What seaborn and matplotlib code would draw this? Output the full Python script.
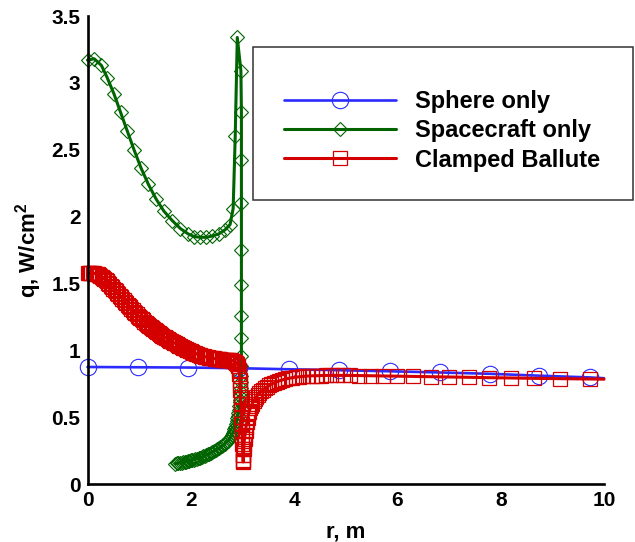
import matplotlib
matplotlib.use("Agg")
import matplotlib.pyplot as plt
import seaborn as sns
from matplotlib.patches import Rectangle
from matplotlib.ticker import MultipleLocator, FixedLocator, FixedFormatter

# ---------------- data ----------------
sphere_r = [0.0, 0.975, 1.95, 2.925, 3.9, 4.875, 5.85, 6.825, 7.8, 8.75, 9.72, 10.0]
sphere_q = [0.875, 0.873, 0.871, 0.866, 0.858, 0.851, 0.843, 0.834, 0.824, 0.810, 0.797, 0.791]

craft_r = [0.00, 0.13, 0.27, 0.38, 0.51, 0.64, 0.77, 0.90, 1.04, 1.18, 1.33, 1.48, 1.64,
           1.80, 1.95, 2.07, 2.18, 2.30, 2.42, 2.54, 2.66, 2.76, 2.82, 2.86, 2.90,
           2.97, 2.98, 2.98, 2.98, 2.98, 2.98, 2.98, 2.98, 2.98, 2.98,
           2.98, 2.975, 2.97, 2.965, 2.96, 2.955, 2.95, 2.94, 2.93, 2.92, 2.91, 2.90,
           2.89, 2.875, 2.86, 2.845, 2.83, 2.81, 2.79, 2.77, 2.745, 2.72, 2.69, 2.66,
           2.63, 2.60, 2.57, 2.54, 2.51, 2.48, 2.45, 2.42, 2.39, 2.36, 2.33, 2.30, 2.27,
           2.24, 2.21, 2.18, 2.15, 2.12, 2.09, 2.06, 2.03, 2.00, 1.97, 1.94, 1.91, 1.88,
           1.85, 1.82, 1.79, 1.76, 1.73, 1.70]
craft_q = [3.17, 3.18, 3.13, 3.04, 2.92, 2.78, 2.64, 2.50, 2.36, 2.24, 2.13, 2.04, 1.97,
           1.91, 1.87, 1.85, 1.845, 1.845, 1.855, 1.87, 1.90, 1.94, 2.06, 2.60, 3.34,
           3.09, 2.78, 2.42, 2.10, 1.75, 1.49, 1.26, 1.09, 0.96, 0.88,
           0.81, 0.76, 0.72, 0.69, 0.66, 0.63, 0.61, 0.58, 0.555, 0.53, 0.51, 0.49,
           0.47, 0.45, 0.43, 0.41, 0.395, 0.38, 0.365, 0.35, 0.337, 0.325, 0.313, 0.302,
           0.292, 0.283, 0.275, 0.267, 0.260, 0.253, 0.246, 0.240, 0.234, 0.228, 0.222,
           0.217, 0.212, 0.207, 0.202, 0.198, 0.194, 0.190, 0.186, 0.182, 0.179, 0.176,
           0.173, 0.170, 0.167, 0.165, 0.162, 0.160, 0.158, 0.156, 0.154, 0.152]

ballute_r = [0.000, 0.025, 0.050, 0.075, 0.100, 0.125, 0.150, 0.175, 0.200, 0.225, 0.250,
             0.275, 0.300, 0.325, 0.350, 0.375, 0.400, 0.425, 0.450, 0.475, 0.500, 0.525,
             0.550, 0.575, 0.600, 0.625, 0.650, 0.675, 0.700, 0.725, 0.750, 0.775, 0.800,
             0.825, 0.850, 0.875, 0.900, 0.925, 0.950, 0.975, 1.000, 1.025, 1.050, 1.075,
             1.100, 1.125, 1.150, 1.175, 1.200, 1.225, 1.250, 1.275, 1.300, 1.325, 1.350,
             1.375, 1.400, 1.425, 1.450, 1.475, 1.500, 1.525, 1.550, 1.575, 1.600, 1.625,
             1.650, 1.675, 1.700, 1.725, 1.750, 1.775, 1.800, 1.825, 1.850, 1.875, 1.900,
             1.925, 1.950, 1.975, 2.000, 2.025, 2.050, 2.075, 2.100, 2.125, 2.150, 2.175,
             2.200, 2.225, 2.250, 2.275, 2.300, 2.325, 2.350, 2.375, 2.400, 2.425, 2.450,
             2.475, 2.500, 2.525, 2.550, 2.575, 2.600, 2.625, 2.650, 2.675, 2.700, 2.725,
             2.750, 2.775, 2.800, 2.825, 2.850, 2.875, 2.900,
             2.915, 2.930, 2.940, 2.950, 2.955, 2.960, 2.965, 2.970, 2.975, 2.980, 2.985,
             2.990, 2.995, 3.000, 3.003, 3.006, 3.010, 3.013, 3.016,
             3.020, 3.025, 3.030, 3.040, 3.050, 3.060, 3.070, 3.085, 3.100, 3.115, 3.130,
             3.150, 3.170, 3.190, 3.215, 3.240, 3.270, 3.300, 3.330, 3.365, 3.400, 3.440,
             3.480, 3.520, 3.560, 3.610, 3.660, 3.710, 3.770, 3.830, 3.890, 3.960, 4.030,
             4.100, 4.180, 4.260, 4.340, 4.430, 4.520, 4.620, 4.720, 4.830, 4.950, 5.080,
             5.250, 5.480, 5.720, 6.000, 6.300, 6.650, 7.000, 7.380, 7.780, 8.200, 8.650,
             9.150, 9.720, 10.00]
ballute_q = [1.575, 1.576, 1.576, 1.576, 1.576, 1.575, 1.574, 1.571, 1.568, 1.563, 1.558,
             1.551, 1.543, 1.534, 1.525, 1.515, 1.505, 1.495, 1.484, 1.473, 1.462, 1.451,
             1.440, 1.429, 1.418, 1.407, 1.396, 1.385, 1.374, 1.363, 1.352, 1.341, 1.331,
             1.320, 1.310, 1.300, 1.290, 1.280, 1.270, 1.260, 1.250, 1.241, 1.232, 1.223,
             1.215, 1.206, 1.198, 1.190, 1.182, 1.174, 1.166, 1.158, 1.151, 1.144, 1.137,
             1.130, 1.123, 1.116, 1.110, 1.103, 1.097, 1.091, 1.085, 1.079, 1.073, 1.067,
             1.062, 1.057, 1.052, 1.046, 1.041, 1.035, 1.030, 1.025, 1.020, 1.015, 1.010,
             1.005, 1.000, 0.995, 0.991, 0.987, 0.983, 0.979, 0.975, 0.971, 0.968, 0.964,
             0.961, 0.958, 0.955, 0.952, 0.950, 0.948, 0.946, 0.944, 0.942, 0.940, 0.939,
             0.937, 0.936, 0.934, 0.933, 0.932, 0.931, 0.930, 0.929, 0.928, 0.927, 0.926,
             0.925, 0.924, 0.922, 0.919, 0.915, 0.908, 0.897,
             0.880, 0.855, 0.820, 0.780, 0.740, 0.700, 0.650, 0.600, 0.550, 0.500, 0.450,
             0.400, 0.350, 0.300, 0.260, 0.220, 0.180, 0.165, 0.170,
             0.220, 0.260, 0.300, 0.340, 0.370, 0.400, 0.430, 0.460, 0.490, 0.520, 0.540,
             0.565, 0.585, 0.600, 0.620, 0.635, 0.652, 0.667, 0.680, 0.693, 0.705, 0.717,
             0.728, 0.738, 0.747, 0.756, 0.764, 0.771, 0.778, 0.785, 0.790, 0.795, 0.799,
             0.802, 0.805, 0.807, 0.809, 0.810, 0.811, 0.812, 0.812, 0.812, 0.812, 0.812,
             0.811, 0.810, 0.809, 0.807, 0.805, 0.803, 0.800, 0.798, 0.795, 0.793, 0.790,
             0.788, 0.785, 0.784]

series_labels = ["Sphere only", "Spacecraft only", "Clamped Ballute"]
x_ticks = [0, 2, 4, 6, 8, 10]
x_tick_labels = ["0", "2", "4", "6", "8", "10"]
y_ticks = [0, 0.5, 1, 1.5, 2, 2.5, 3, 3.5]
y_tick_labels = ["0", "0.5", "1", "1.5", "2", "2.5", "3", "3.5"]

# ---------------- style ----------------
sns.set_style("white")
plt.rcParams["font.family"] = ["Liberation Sans", "DejaVu Sans"]
plt.rcParams["font.weight"] = "bold"
plt.rcParams["text.color"] = "black"
plt.rcParams["axes.labelcolor"] = "black"
plt.rcParams["mathtext.fontset"] = "custom"
plt.rcParams["mathtext.rm"] = "Liberation Sans"
plt.rcParams["mathtext.default"] = "regular"

fig = plt.figure(figsize=(6.35, 5.42), dpi=100)
ax = fig.add_axes([87.5 / 635, 58 / 542, (604 - 87.5) / 635, (484 - 16) / 542])

blue = "#2b2bff"
green = "#006400"
red = "#d40000"

sns.lineplot(x=sphere_r, y=sphere_q, ax=ax, sort=False, estimator=None,
             color=blue, linewidth=1.9, marker="o", markersize=11.8,
             markerfacecolor="none", markeredgecolor=blue, markeredgewidth=0.8,
             markevery=list(range(len(sphere_r) - 1)), clip_on=False,
             label=series_labels[0])
sns.lineplot(x=craft_r, y=craft_q, ax=ax, sort=False, estimator=None,
             color=green, linewidth=2.2, marker="D", markersize=7.6,
             markerfacecolor="none", markeredgecolor=green, markeredgewidth=0.8,
             clip_on=False, label=series_labels[1])
sns.lineplot(x=ballute_r, y=ballute_q, ax=ax, sort=False, estimator=None,
             color=red, linewidth=2.2, marker="s", markersize=10.0,
             markerfacecolor="none", markeredgecolor=red, markeredgewidth=0.9,
             markevery=list(range(len(ballute_r) - 1)), clip_on=False,
             label=series_labels[2])

ax.set_xlim(0, 10)
ax.set_ylim(0, 3.5)
ax.xaxis.set_major_locator(FixedLocator(x_ticks))
ax.xaxis.set_major_formatter(FixedFormatter(x_tick_labels))
ax.yaxis.set_major_locator(FixedLocator(y_ticks))
ax.yaxis.set_major_formatter(FixedFormatter(y_tick_labels))
ax.xaxis.set_minor_locator(MultipleLocator(0.4))
ax.yaxis.set_minor_locator(MultipleLocator(0.1))

for s in ["top", "right"]:
    ax.spines[s].set_visible(False)
for s in ["left", "bottom"]:
    ax.spines[s].set_linewidth(1.9)
    ax.spines[s].set_color("black")
    ax.spines[s].set_zorder(5)

ax.tick_params(which="major", direction="in", length=8.5, width=1.6, labelsize=15,
               pad=5, colors="black")
ax.tick_params(which="minor", direction="in", length=5, width=1.0, colors="black")
for lab in ax.get_xticklabels() + ax.get_yticklabels():
    lab.set_fontweight("bold")

ax.set_xlabel("r, m", fontsize=16, fontweight="bold", labelpad=8, color="black")
ax.set_ylabel(r"q, W/cm$^2$", fontsize=16, fontweight="bold", labelpad=5, color="black")

# legend box
box = Rectangle((253 / 635, 1 - 200 / 542), (633 - 253) / 635, (200 - 47) / 542,
                transform=fig.transFigure, facecolor="white", edgecolor="#333333",
                linewidth=1.1, zorder=7, clip_on=False)
ax.add_patch(box)

leg = ax.legend(loc="upper left", bbox_to_anchor=(284 / 635, 1 - 90 / 542),
                bbox_transform=fig.transFigure, frameon=False, fontsize=17,
                handlelength=4.75, handletextpad=0.8, labelspacing=0.27,
                borderpad=0.0, borderaxespad=0.0, numpoints=1)
leg.set_zorder(8)
for t in leg.get_texts():
    t.set_fontweight("bold")
    t.set_color("black")

fig.savefig("out.png", dpi=100)
